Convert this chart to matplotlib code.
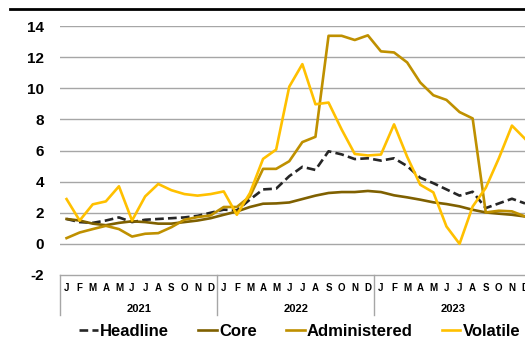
import matplotlib
matplotlib.use("Agg")
import matplotlib.pyplot as plt
from matplotlib.lines import Line2D

plt.rcParams['font.family'] = ['Liberation Sans', 'DejaVu Sans']

# monthly data, Jan 2021 - Dec 2023
months = list("JFMAMJJASOND") * 3
years = ['2021', '2022', '2023']

headline = [1.6, 1.4, 1.35, 1.5, 1.7, 1.4, 1.55, 1.6, 1.65, 1.7, 1.8, 2.0,
            2.2, 2.15, 2.85, 3.5, 3.55, 4.35, 4.95, 4.75, 5.95, 5.75, 5.45, 5.5,
            5.35, 5.5, 5.0, 4.25, 3.9, 3.5, 3.1, 3.35, 2.3, 2.6, 2.9, 2.6]
core = [1.6, 1.5, 1.3, 1.2, 1.35, 1.45, 1.4, 1.3, 1.3, 1.4, 1.5, 1.65,
        1.87, 2.08, 2.37, 2.58, 2.6, 2.66, 2.88, 3.1, 3.27, 3.33, 3.33, 3.4,
        3.33, 3.12, 2.99, 2.84, 2.67, 2.56, 2.41, 2.19, 2.02, 1.94, 1.87, 1.76]
administered = [0.37, 0.73, 0.95, 1.16, 0.95, 0.47, 0.65, 0.69, 1.07, 1.55, 1.72, 1.83,
                2.37, 2.37, 3.05, 4.82, 4.82, 5.31, 6.54, 6.88, 13.37, 13.37, 13.1, 13.4,
                12.37, 12.3, 11.66, 10.37, 9.55, 9.25, 8.47, 8.06, 2.02, 2.13, 2.09, 1.76]
volatile = [2.88, 1.5, 2.54, 2.73, 3.7, 1.5, 3.05, 3.85, 3.45, 3.2, 3.1, 3.2,
            3.37, 1.87, 3.27, 5.46, 6.06, 10.1, 11.55, 8.97, 9.08, 7.35, 5.78, 5.68,
            5.74, 7.68, 5.6, 3.8, 3.31, 1.12, 0.0, 2.4, 3.6, 5.5, 7.6, 6.75]

W, H = 525, 342
fig = plt.figure(figsize=(W / 100, H / 100), dpi=100)
# plot area: x from 60px (extends past right edge), y from 26px to 275px
ax = fig.add_axes([60 / W, 1 - 275 / H, 471.6 / W, 249 / H])

x = list(range(len(months)))
ax.plot(x, headline, color='#262626', lw=1.9, ls=(0, (3.3, 1.6)), label='Headline')
ax.plot(x, core, color='#7F6000', lw=1.9, label='Core')
ax.plot(x, administered, color='#BF9000', lw=1.9, label='Administered')
ax.plot(x, volatile, color='#FFC000', lw=1.9, label='Volatile')

ax.set_xlim(-0.5, 35.5)
ax.set_ylim(-2, 14)
ax.set_yticks(range(-2, 15, 2))
ax.set_yticklabels([str(v) for v in range(-2, 15, 2)], fontsize=11, fontweight='bold')
ax.tick_params(axis='y', length=0, pad=11.5)
ax.set_xticks([])

for v in range(0, 15, 2):
    ax.axhline(v, color='#a6a6a6', lw=1, zorder=0)

for s in ['top', 'right', 'left']:
    ax.spines[s].set_visible(False)
ax.spines['bottom'].set_color('#a6a6a6')
ax.spines['bottom'].set_linewidth(1)

# category axis (months + years)
tr = ax.get_xaxis_transform()
for i, m in enumerate(months):
    ax.text(i, -13 / 249, m, transform=tr, ha='center', va='center',
            fontsize=7, fontweight='bold')
for k, yr in enumerate(years):
    ax.text(12 * k + 5.5, -34 / 249, yr, transform=tr, ha='center', va='center',
            fontsize=8, fontweight='bold')
for b in [-0.5, 11.5, 23.5, 35.5]:
    ax.add_line(Line2D([b, b], [0, -40 / 249], transform=tr, color='#a6a6a6',
                       lw=1, clip_on=False))

# thick rule at the top
fig.add_artist(Line2D([10 / W, 1], [1 - 8.5 / H, 1 - 8.5 / H], color='black', lw=2))

fig.legend(loc='center', bbox_to_anchor=(300 / W, 1 - 331 / H), ncol=4,
           frameon=False, prop={'size': 12, 'weight': 'bold'},
           handlelength=1.1, handletextpad=0.15, columnspacing=1.75,
           borderpad=0, borderaxespad=0)

fig.savefig('out.png', dpi=100)
